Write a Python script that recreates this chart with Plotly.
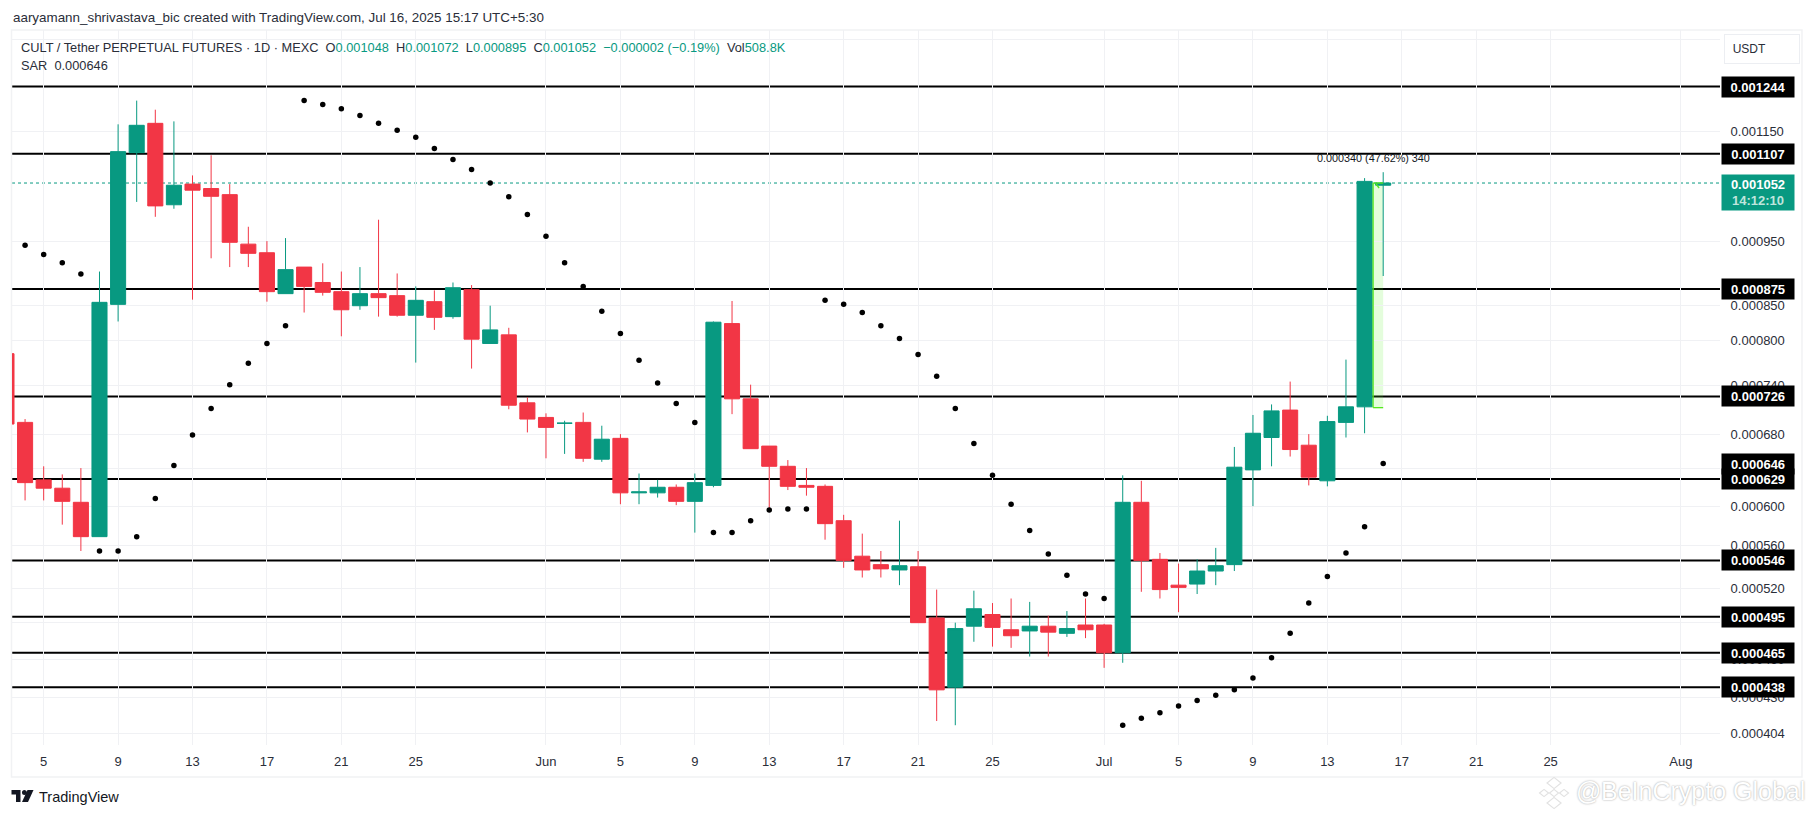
import numpy as np
import pandas as pd
import plotly.graph_objects as go

# prices below are in millionths of USDT
dates = pd.date_range("2025-05-03", "2025-07-16", freq="D")

opens = [782, 694, 628, 619, 604, 569, 852, 1109, 1167, 1013, 1050, 1042, 1031, 946, 932, 868, 909, 885, 871,
         850, 868, 865, 836, 856, 834, 874, 796, 808, 718, 700, 693, 694, 651, 675, 614, 614, 620, 605, 622,
         824, 723, 666, 643, 622, 621, 585, 550, 542, 537, 540, 494, 438, 487, 497, 484, 483, 487, 481, 488,
         488, 465, 604, 547, 523, 524, 536, 542, 639, 676, 709, 667, 627, 694, 713, 1048]
highs = [782, 698, 643, 634, 641, 902, 1165, 1214, 1195, 1171, 1066, 1104, 1050, 975, 951, 956, 909, 915, 902,
         909, 987, 899, 879, 873, 885, 881, 850, 818, 725, 705, 696, 706, 690, 680, 635, 628, 623, 635, 827,
         857, 741, 666, 650, 641, 623, 591, 572, 555, 585, 555, 519, 490, 518, 507, 511, 508, 496, 500, 511,
         489, 633, 627, 553, 543, 547, 558, 665, 703, 716, 745, 680, 702, 774, 1061, 1072]
lows = [692, 606, 606, 581, 555, 569, 827, 1018, 992, 1006, 859, 923, 909, 909, 856, 868, 840, 865, 806,
        844, 834, 834, 770, 815, 831, 762, 796, 710, 682, 652, 657, 648, 648, 602, 602, 609, 601, 573, 620,
        704, 663, 596, 617, 611, 566, 539, 530, 530, 523, 490, 413, 410, 474, 470, 469, 462, 462, 478, 477,
        453, 457, 517, 511, 499, 515, 523, 536, 600, 643, 654, 622, 621, 676, 681, 895]
closes = [692, 625, 619, 605, 569, 855, 1111, 1163, 1011, 1048, 1039, 1028, 949, 931, 871, 905, 879, 870, 844,
          868, 862, 836, 858, 833, 877, 802, 815, 715, 698, 688, 693, 652, 674, 614, 615, 620, 605, 625, 826,
          723, 663, 643, 621, 620, 582, 546, 537, 538, 541, 490, 436, 485, 502, 486, 479, 487, 482, 485, 484,
          465, 604, 546, 519, 521, 536, 541, 642, 681, 708, 662, 631, 695, 713, 1055, 1052]

sar_dates = dates[1:]
sar = [944, 929, 916, 898, 555, 555, 569, 608, 644, 679, 711, 741, 769, 796, 821,
       1214, 1206, 1197, 1183, 1167, 1153, 1139, 1117, 1096, 1077, 1052, 1027, 996, 959, 916, 879, 842,
       810, 773, 743, 717, 694,
       573, 573, 585, 596, 597, 597,
       858, 852, 840, 821, 803, 781, 752, 711, 669, 633, 602, 575, 552, 532, 515, 511,
       410, 415, 419, 424, 428, 432, 436, 445, 461, 481, 507, 531, 553, 579, 646]

levels = [1244, 1107, 875, 726, 629, 546, 495, 465, 438]
level_labels = ["0.001244", "0.001107", "0.000875", "0.000726", "0.000629", "0.000546", "0.000495", "0.000465", "0.000438"]
last_price = 1052
range_low = 712

y_ticks = [1350, 1150, 950, 850, 800, 740, 680, 640, 600, 560, 520, 490, 460, 430, 404]
x_tick_dates = ["2025-05-05", "2025-05-09", "2025-05-13", "2025-05-17", "2025-05-21", "2025-05-25", "2025-06-01",
                "2025-06-05", "2025-06-09", "2025-06-13", "2025-06-17", "2025-06-21", "2025-06-25", "2025-07-01",
                "2025-07-05", "2025-07-09", "2025-07-13", "2025-07-17", "2025-07-21", "2025-07-25", "2025-08-01"]
x_tick_text = ["5", "9", "13", "17", "21", "25", "Jun", "5", "9", "13", "17", "21", "25", "Jul",
               "5", "9", "13", "17", "21", "25", "Aug"]

GREEN = "#089981"
RED = "#F23645"
TEXT = "#2a2e39"
GRID = "#f0f1f4"
FONT = "Liberation Sans"

W, H = 1814, 816
L, R, T, B = 11.5, 1720, 30, 745


def px(x):
    return (x - L) / (R - L)


def py(y):
    return (B - y) / (B - T)


def um(values):
    return np.array(values) * 1e-6


fig = go.Figure()

fig.add_trace(go.Candlestick(
    x=dates, open=um(opens), high=um(highs), low=um(lows), close=um(closes),
    increasing=dict(line=dict(color=GREEN, width=1), fillcolor=GREEN),
    decreasing=dict(line=dict(color=RED, width=1), fillcolor=RED),
    whiskerwidth=0, hoverinfo="skip", showlegend=False,
))
fig.add_trace(go.Scatter(
    x=sar_dates, y=um(sar), mode="markers",
    marker=dict(color="black", size=5.5), hoverinfo="skip", showlegend=False,
))

# support / resistance lines sit under the candles
for lv in levels:
    fig.add_shape(type="line", xref="paper", x0=0, x1=1, yref="y", y0=lv * 1e-6, y1=lv * 1e-6,
                  line=dict(color="black", width=2), layer="below")
fig.add_shape(type="line", xref="paper", x0=0, x1=1, yref="y", y0=last_price * 1e-6, y1=last_price * 1e-6,
              line=dict(color=GREEN, width=1, dash="dot"), layer="below")

# date and price range box on the last two days
box_left = "2025-07-15 11:00"
box_right = "2025-07-16 00:00"
fig.add_shape(type="rect", x0=box_left, x1=box_right, y0=range_low * 1e-6, y1=last_price * 1e-6,
              fillcolor="rgba(90,240,40,0.16)", line=dict(width=0), layer="below")
for x0, x1, y0, y1 in [(box_left, box_left, range_low, last_price),
                       (box_left, box_right, range_low, range_low),
                       (box_left, box_right, last_price, last_price)]:
    fig.add_shape(type="line", x0=x0, x1=x1, y0=y0 * 1e-6, y1=y1 * 1e-6,
                  line=dict(color="#55e81e", width=1.3))
# tiny arrow head of that tool
fig.add_shape(type="line", xref="paper", yref="paper", x0=px(1376), x1=px(1379), y0=py(184), y1=py(188),
              line=dict(color="#55e81e", width=1.3))

# chart frame
fig.add_shape(type="rect", xref="paper", yref="paper", x0=px(11), x1=px(1802), y0=py(777), y1=py(30),
              line=dict(color="#f1f2f4", width=1.5), layer="below")

# TradingView logo
lx, ly = 11, 790
for pts in [[(0, 0), (9, 0), (9, 12), (4.5, 12), (4.5, 4.5), (0, 4.5)],
            [(16, 0), (22, 0), (16.5, 12), (10.5, 12)]]:
    path = "M " + " L ".join(f"{px(lx + a)} {py(ly + b)}" for a, b in pts) + " Z"
    fig.add_shape(type="path", xref="paper", yref="paper", path=path, fillcolor="#131722", line=dict(width=0))
fig.add_shape(type="circle", xref="paper", yref="paper", x0=px(lx + 10.5), x1=px(lx + 15.5), y0=py(ly + 5),
              y1=py(ly), fillcolor="#131722", line=dict(width=0))

# watermark diamonds
for dx, dy, r in [(1554, 783, 7), (1544, 793, 4.5), (1564, 793, 4.5), (1554, 793, 4.5), (1554, 803, 7)]:
    fig.add_shape(type="path", xref="paper", yref="paper",
                  path=(f"M {px(dx - r)} {py(dy)} L {px(dx)} {py(dy - r * 0.8)} "
                        f"L {px(dx + r)} {py(dy)} L {px(dx)} {py(dy + r * 0.8)} Z"),
                  fillcolor="#ffffff", line=dict(color="#e2e2e2", width=1.2))


def note(text, x, y, size=13, color=TEXT, anchor="left", shadow=None, **kw):
    font = dict(family=FONT, size=size, color=color)
    if shadow:
        font["shadow"] = shadow
    fig.add_annotation(text=text, xref="paper", yref="paper", x=px(x), y=py(y), xanchor=anchor, yanchor="middle",
                       showarrow=False, font=font, **kw)


note("aaryamann_shrivastava_bic created with TradingView.com, Jul 16, 2025 15:17 UTC+5:30", 10, 17, size=13.4)


def g(s):
    return f'<span style="color:{GREEN}">{s}</span>'


note("CULT / Tether PERPETUAL FUTURES · 1D · MEXC  O" + g("0.001048") + "  H" + g("0.001072") + "  L" + g("0.000895")
     + "  C" + g("0.001052") + "  " + g("−0.000002 (−0.19%)") + "  Vol" + g("508.8K"), 18.5, 47, size=12.8)
note("SAR  0.000646", 18.5, 66, size=12.8)
note("0.000340 (47.62%) 340", 1373, 158, size=10.8, color="#131722", anchor="center")
note("TradingView", 37, 797, size=14.5, color="#131722")
note("@", 1574, 791, size=25, color="#ffffff", shadow="0 0 2px #9a9a9a")
note("BeInCrypto Global", 1599, 791, size=25, color="#ffffff", shadow="0 0 2px #9a9a9a")
note("\u00a0\u00a0USDT", 1762, 49, size=12, anchor="center", width=72, height=26, bgcolor="white", align="left",
     bordercolor="#eceef2", borderwidth=1)

# price labels on the scale
labels = list(zip(level_labels, levels)) + [("0.000646", 646)]
for text, value in labels:
    fig.add_annotation(text=f"<b>{text}</b>", xref="paper", yref="y", x=px(1721), y=np.log10(value * 1e-6),
                       xanchor="left", yanchor="middle", showarrow=False, width=70, height=18, align="center",
                       bgcolor="black", font=dict(family=FONT, size=13, color="white"))
fig.add_annotation(text='<b>0.001052</b><br><span style="color:#bfe5dd"><b>14:12:10</b></span>',
                   xref="paper", yref="paper", x=px(1721), y=py(174), xanchor="left", yanchor="top",
                   showarrow=False, width=70, height=33, align="center", bgcolor=GREEN,
                   font=dict(family=FONT, size=13, color="white"))

fig.update_layout(
    width=W, height=H, margin=dict(l=L, r=W - R, t=T, b=H - B, pad=0, autoexpand=False),
    paper_bgcolor="white", plot_bgcolor="white", boxgap=0.1, boxgroupgap=0.1, showlegend=False, hovermode=False,
    xaxis=dict(
        type="date", range=["2025-05-03 07:08", "2025-08-03 02:30"], rangeslider=dict(visible=False),
        tickmode="array", tickvals=x_tick_dates, ticktext=x_tick_text, showgrid=True, gridcolor=GRID, gridwidth=1,
        zeroline=False, showline=False, ticks="outside", ticklen=4, tickcolor="white",
        tickfont=dict(family=FONT, size=13, color=TEXT),
    ),
    yaxis=dict(
        type="log", side="right", range=[np.log10(0.00039615), np.log10(0.0013725)],
        tickmode="array", tickvals=um(y_ticks), ticktext=[f"{v * 1e-6:.6f}" for v in y_ticks],
        showgrid=True, gridcolor=GRID, gridwidth=1, zeroline=False, showline=False,
        ticks="outside", ticklen=7, tickcolor="white",
        tickfont=dict(family=FONT, size=13, color=TEXT),
    ),
)

fig.write_html("out.html", config={"displayModeBar": False}, post_script="document.body.style.margin='0';")
